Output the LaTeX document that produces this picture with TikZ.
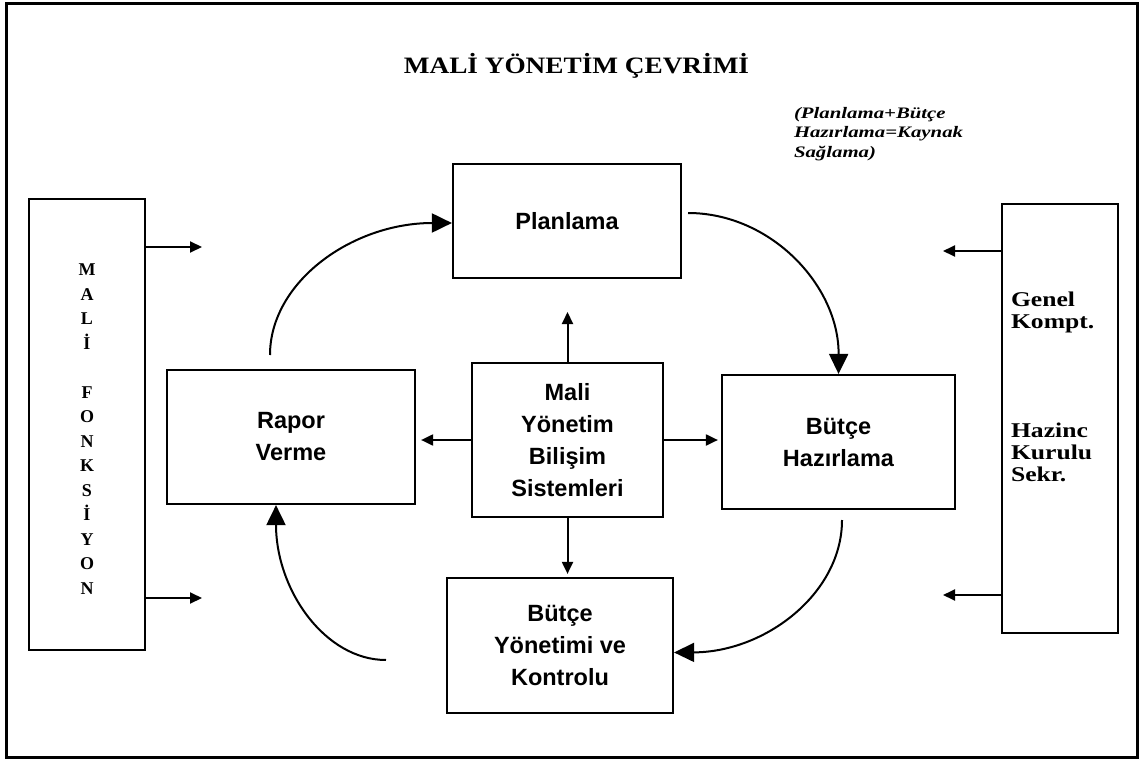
\documentclass[tikz,border=0pt]{standalone}
\usepackage{fontspec}
\setmainfont{Liberation Serif}
\newfontfamily\arialf{Liberation Sans}
\newfontfamily\titlefont[FakeStretch=1.16]{Liberation Serif}
\newfontfamily\sidefont[FakeStretch=1.22]{Liberation Serif}
\newfontfamily\notefont[FakeStretch=1.3]{Liberation Serif}
\usetikzlibrary{arrows.meta}
\begin{document}
\begin{tikzpicture}[x=1pt,y=-1pt, line width=2pt,
 box/.style={draw, line width=2.2pt, rectangle, inner sep=0pt, align=center,
   font=\arialf\bfseries\fontsize{23.5}{32}\selectfont},
 side/.style={draw, line width=2.2pt, rectangle, inner sep=0pt},
 sidetext/.style={font=\sidefont\bfseries\fontsize{21}{22}\selectfont, align=left, inner sep=0pt, anchor=west},
 sarrow/.style={-{Triangle[length=12pt,width=11pt]}, line width=2pt},
 carrow/.style={-{Triangle[length=20pt,width=19pt]}, line width=2pt},
]
\useasboundingbox (0,0) rectangle (1142,762);
\node[draw, line width=3pt, minimum width=1131pt, minimum height=753pt, inner sep=0pt] (frame) at (571.5,380.5) {};
\node[font=\titlefont\bfseries\fontsize{23.5}{28}\selectfont] (title) at (576.5,66) {MALİ YÖNETİM ÇEVRİMİ};
\node[anchor=north west, align=left, inner sep=0pt,
  font=\notefont\bfseries\itshape\fontsize{16}{19.5}\selectfont] (note) at (793,106) {(Planlama+Bütçe\\Hazırlama=Kaynak\\Sağlama)};

\node[box, minimum width=228pt, minimum height=114pt] (plan) at (567,221) {Planlama};
\node[box, minimum width=248pt, minimum height=134pt] (rapor) at (291,437) {Rapor\\Verme};
\node[box, minimum width=191pt, minimum height=154pt] (mys) at (567.5,440) {Mali\\Yönetim\\Bilişim\\Sistemleri};
\node[box, minimum width=233pt, minimum height=134pt] (bh) at (838.5,442) {Bütçe\\Hazırlama};
\node[box, minimum width=226pt, minimum height=135pt] (byk) at (560,645.5) {Bütçe\\Yönetimi ve\\Kontrolu};

\node[side, minimum width=116pt, minimum height=451pt] (lf) at (87,424.5) {};
\node[font=\bfseries\fontsize{18}{24.5}\selectfont, align=center, inner sep=0pt] (lft) at (87,429)
  {M\\A\\L\\İ\\[24.5pt]F\\O\\N\\K\\S\\İ\\Y\\O\\N};
\node[side, minimum width=116pt, minimum height=429pt] (rb) at (1060,418.5) {};
\node[sidetext] (gk) at (1010,312) {Genel\\Kompt.};
\node[sidetext] (hk) at (1010,452) {Hazinc\\Kurulu\\Sekr.};

% side arrows
\coordinate (la1) at (202,247);
\coordinate (la2) at (202,598);
\coordinate (ra1) at (943,251);
\coordinate (ra2) at (943,595);
\draw[sarrow] (la1 -| lf.east) -- (la1);
\draw[sarrow] (la2 -| lf.east) -- (la2);
\draw[sarrow] (ra1 -| rb.west) -- (ra1);
\draw[sarrow] (ra2 -| rb.west) -- (ra2);

% center arrows
\coordinate (up) at (567.5,312);
\draw[sarrow] (mys.north) -- (up);
\draw[sarrow, shorten >=5pt] (mys.west) -- (mys.west -| rapor.east);
\draw[sarrow, shorten >=3pt] (mys.east) -- (mys.east -| bh.west);
\draw[sarrow, shorten >=3pt] (mys.south) -- (mys.south |- byk.north);

% cycle arrows
\coordinate (c1) at (270,355);
\coordinate (c2) at (688,213);
\coordinate (c3) at (842,520);
\coordinate (c4) at (386,660);
\draw[carrow] (c1) .. controls (270,282) and (352,223) .. ([yshift=-2pt]plan.west);
\draw[carrow] (c2) .. controls (771,213) and (839,286) .. (bh.north);
\draw[carrow] (c3) .. controls (842,593) and (766,652) .. ([yshift=-7pt]byk.east);
\draw[carrow] (c4) .. controls (325,660) and (276,590) .. ([xshift=-15pt]rapor.south);
\end{tikzpicture}
\end{document}
